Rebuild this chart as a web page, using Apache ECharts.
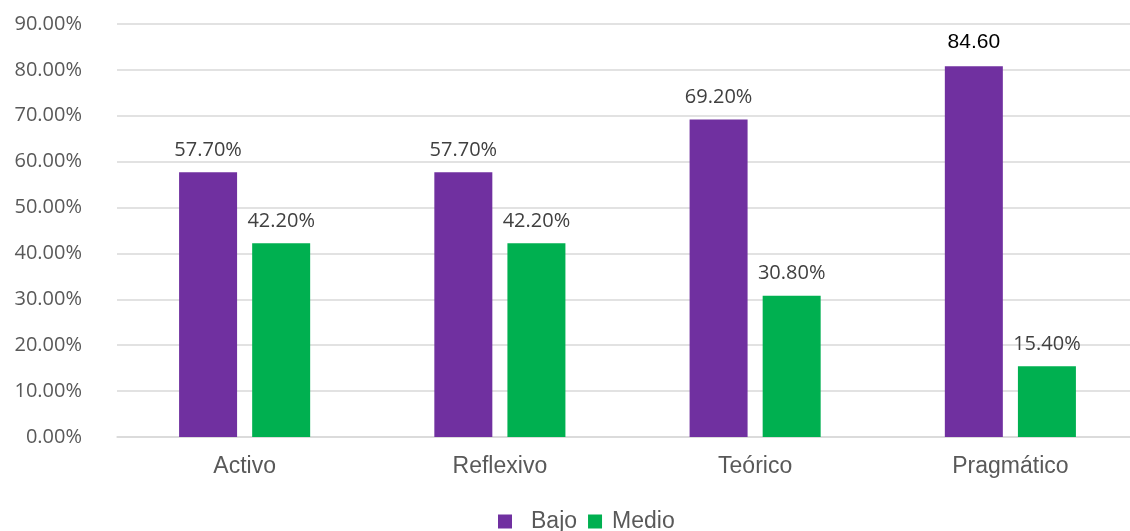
<!DOCTYPE html>
<html>
<head>
<meta charset="utf-8">
<script src="https://cdn.jsdelivr.net/npm/echarts@6/dist/echarts.min.js"></script>
<style>html,body{margin:0;padding:0;background:#fff;overflow:hidden;width:1130px;height:531px;}#c{width:1138px;height:531px;}</style>
</head>
<body>
<div id="c"></div>
<script>
const categories = ['Activo', 'Reflexivo', 'Teórico', 'Pragmático'];
const bajoValues = [57.7, 57.7, 69.2, 80.8];
const medioValues = [42.2, 42.2, 30.8, 15.4];
const bajoLabels = ['57.70%', '57.70%', '69.20%', '84.60'];
const medioLabels = ['42.20%', '42.20%', '30.80%', '15.40%'];
const yTicks = [0, 10, 20, 30, 40, 50, 60, 70, 80, 90];

const chart = echarts.init(document.getElementById('c'));
const pctFont = { fontFamily: 'Open Sans', fontSize: 20, color: '#404040' };
const bajoData = bajoValues.map((v, i) => i === 3
  ? { value: v, label: { fontFamily: 'Liberation Sans', fontSize: 21, color: '#000000', distance: 14 } }
  : v);
chart.setOption({
  animation: false,
  grid: { left: 117, top: 24, right: 0, bottom: 94, containLabel: false },
  legend: {
    data: ['Bajo', 'Medio'],
    top: 505,
    left: 493,
    itemWidth: 14, itemHeight: 14, itemGap: 11,
    icon: 'rect',
    formatter: name => name === 'Bajo' ? '{b|' + name + '}' : '{m|' + name + '}',
    textStyle: {
      fontFamily: 'Liberation Sans', fontSize: 23, color: '#595959',
      rich: {
        b: { fontFamily: 'Liberation Sans', fontSize: 23, color: '#595959', padding: [0, 0, 0, 14] },
        m: { fontFamily: 'Liberation Sans', fontSize: 23, color: '#595959', padding: [0, 0, 0, 5] }
      }
    }
  },
  xAxis: {
    type: 'category',
    data: categories,
    axisLine: { lineStyle: { color: '#D9D9D9', width: 1.5 } },
    axisTick: { show: false },
    axisLabel: { fontFamily: 'Liberation Sans', fontSize: 23, color: '#595959', margin: 18 }
  },
  yAxis: {
    type: 'value',
    min: yTicks[0], max: yTicks[yTicks.length - 1], interval: 10,
    axisLine: { show: false },
    axisTick: { show: false },
    splitLine: { lineStyle: { color: '#D9D9D9', width: 1.5 } },
    axisLabel: { fontFamily: 'Open Sans', fontSize: 20, color: '#595959', margin: 35,
      formatter: v => v.toFixed(2) + '%' }
  },
  series: [
    {
      name: 'Bajo', type: 'bar', data: bajoData, barWidth: 58, barGap: '26%',
      itemStyle: { color: '#7030A0' },
      label: {
        show: true, position: 'top', distance: 12, ...pctFont,
        formatter: p => bajoLabels[p.dataIndex]
      }
    },
    {
      name: 'Medio', type: 'bar', data: medioValues, barWidth: 58,
      itemStyle: { color: '#00B050' },
      label: {
        show: true, position: 'top', distance: 12, ...pctFont,
        formatter: p => medioLabels[p.dataIndex]
      }
    }
  ]
});
</script>
</body>
</html>
